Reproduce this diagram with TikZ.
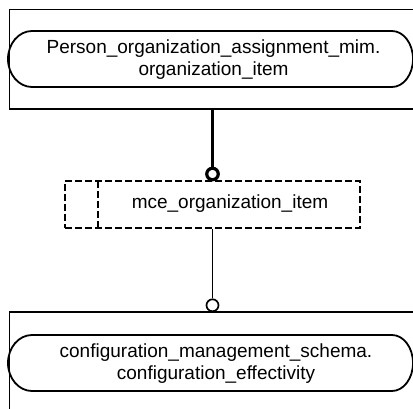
\documentclass[tikz,border=0pt]{standalone}
\usepackage{fontspec}
\setmainfont{Liberation Sans}
\begin{document}
\begin{tikzpicture}[x=1bp,y=-1bp,
  lbl/.style={font=\fontsize{19bp}{22bp}\selectfont, align=center, inner sep=0pt},
  frame/.style={draw, line width=1.2bp, rectangle, inner sep=0pt},
  pill/.style={line width=1.8bp},
  dbox/.style={draw, line width=1.7bp, dash pattern=on 7bp off 3bp, rectangle, inner sep=0pt},
  thickconn/.style={line width=3.8bp},
  thinconn/.style={line width=1.7bp},
  ring/.style={circle, draw, fill=white, inner sep=0pt}]
\useasboundingbox (0,0) rectangle (413,409);
\fill[white] (0,0) rectangle (413,409);
\clip (0,0) rectangle (413,409);

% top entity box
\node[frame, minimum width=431bp, minimum height=99bp, anchor=north west] (topbox) at (9,9) {};
\draw[line width=2.3bp] (topbox.south west) -- (topbox.south east);
\draw[pill] (32,31) -- (392,31) arc[start angle=-90, end angle=90, x radius=21, y radius=28]
  -- (32,87) arc[start angle=90, end angle=270, x radius=24, y radius=28] -- cycle;
\node[lbl] (toplbl) at (213.5,60) {Person\_organization\_assignment\_mim.\\organization\_item};

% middle select box
\node[dbox, minimum width=295bp, minimum height=47bp] (mid) at (212.5,204.5) {};
\coordinate (divtop) at (98,181);
\draw[line width=1.7bp, dash pattern=on 7bp off 3bp] (divtop) -- (divtop |- mid.south);
\node[lbl] (midlbl) at (230,204) {mce\_organization\_item};

% bottom entity box
\node[frame, minimum width=431bp, minimum height=120bp, anchor=north west] (botbox) at (9,312) {};
\draw[line width=2.3bp] (botbox.north west) -- (botbox.north east);
\draw[pill] (32,335) -- (392,335) arc[start angle=-90, end angle=90, x radius=21, y radius=28]
  -- (32,391) arc[start angle=90, end angle=270, x radius=24, y radius=28] -- cycle;
\node[lbl] (botlbl) at (216,364) {configuration\_management\_schema.\\configuration\_effectivity};

% connectors
\node[ring, line width=3.2bp, minimum size=11.5bp] (c1) at (212.5,174) {};
\draw[thickconn] (c1.north |- topbox.south) -- (c1.north);
\node[ring, line width=1.7bp, minimum size=12bp] (c2) at (212.5,305.3) {};
\draw[thinconn] (mid.south) -- (c2.north);
\end{tikzpicture}
\end{document}
